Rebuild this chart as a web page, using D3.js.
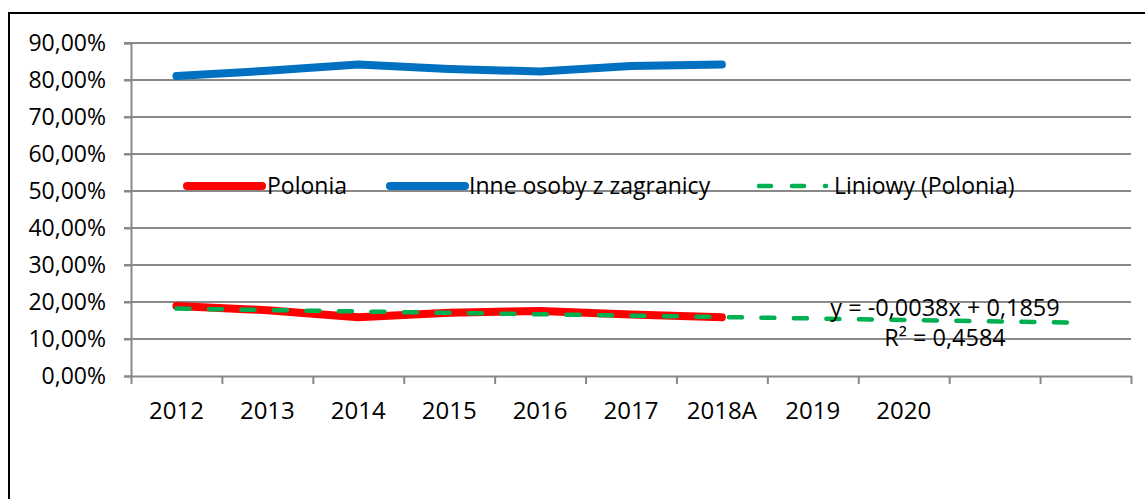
<!DOCTYPE html>
<html lang="pl">
<head>
    <meta charset="utf-8">
    <title>Polonia vs inne osoby z zagranicy</title>
    <script type="text/javascript" src="https://d3js.org/d3.v7.min.js"></script>
    <style type="text/css">
        body { margin: 0; background: #fff; }
        text { font-family: "Open Sans", sans-serif; fill: #000; }
    </style>
</head>
<body>
    <script type="text/javascript">
        var years = ["2012", "2013", "2014", "2015", "2016", "2017", "2018A", "2019", "2020", "", ""];
        var polonia = [0.189, 0.178, 0.159, 0.171, 0.176, 0.166, 0.159];
        var inne = [0.811, 0.825, 0.842, 0.830, 0.823, 0.838, 0.842];
        var yTicks = [0, 0.1, 0.2, 0.3, 0.4, 0.5, 0.6, 0.7, 0.8, 0.9];
        // trend line from the chart: y = -0,0038x + 0,1859, x = 1..11
        var trendSlope = -0.0038;
        var trendIntercept = 0.1859;
        var trendX = [1, 11];
        var legendNames = ["Polonia", "Inne osoby z zagranicy", "Liniowy (Polonia)"];

        var width = 1145, height = 499;
        var plotLeft = 131, plotRight = 1131, plotTop = 43, plotBottom = 376;
        var grid = "#898989";

        var pl = d3.formatLocale({ decimal: ",", thousands: " ", grouping: [3], currency: ["", " zł"] });
        var pct = pl.format(".2%");

        var svg = d3.select("body").append("svg")
            .attr("width", width)
            .attr("height", height);

        // chart border
        svg.append("rect")
            .attr("x", 9).attr("y", 13)
            .attr("width", 1300).attr("height", 700)
            .attr("fill", "none")
            .attr("stroke", "#000")
            .attr("stroke-width", 2);

        var x = d3.scaleLinear().domain([0, years.length]).range([plotLeft, plotRight]);
        var y = d3.scaleLinear().domain([0, 0.9]).range([plotBottom, plotTop]);

        // gridlines
        svg.append("g").selectAll("line")
            .data(yTicks.slice(1))
            .enter().append("line")
            .attr("x1", plotLeft - 7).attr("x2", plotRight)
            .attr("y1", function(d) { return y(d); })
            .attr("y2", function(d) { return y(d); })
            .attr("stroke", grid).attr("stroke-width", 2);

        // y axis
        var yAxis = svg.append("g")
            .attr("transform", "translate(" + plotLeft + ",0)")
            .call(d3.axisLeft(y).tickValues(yTicks).tickFormat(pct).tickSize(7).tickPadding(18));
        yAxis.select(".domain").attr("stroke", grid).attr("stroke-width", 2);
        yAxis.selectAll(".tick line").attr("stroke", grid).attr("stroke-width", 2);
        yAxis.selectAll("text").attr("fill", "#000").style("font-size", "23px").attr("dy", "0.34em");

        // x axis (ticks between categories)
        var xAxis = svg.append("g")
            .attr("transform", "translate(0," + plotBottom + ")")
            .call(d3.axisBottom(x).tickValues(d3.range(0, years.length + 1)).tickFormat("").tickSize(8).tickSizeOuter(0));
        xAxis.select(".domain").attr("stroke", grid).attr("stroke-width", 2);
        xAxis.selectAll(".tick line").attr("stroke", grid).attr("stroke-width", 2);

        svg.append("g").selectAll("text")
            .data(years)
            .enter().append("text")
            .attr("x", function(d, i) { return x(i + 0.5); })
            .attr("y", 419)
            .attr("text-anchor", "middle")
            .style("font-size", "24px")
            .text(function(d) { return d; });

        var line = d3.line()
            .x(function(d, i) { return x(i + 0.5); })
            .y(function(d) { return y(d); });

        svg.append("path")
            .attr("d", line(inne))
            .attr("fill", "none")
            .attr("stroke", "#0070C0")
            .attr("stroke-width", 8)
            .attr("stroke-linecap", "round")
            .attr("stroke-linejoin", "round");

        svg.append("path")
            .attr("d", line(polonia))
            .attr("fill", "none")
            .attr("stroke", "#FF0000")
            .attr("stroke-width", 8)
            .attr("stroke-linecap", "round")
            .attr("stroke-linejoin", "round");

        // trend line
        var trendLine = d3.line()
            .x(function(d) { return x(d - 0.5); })
            .y(function(d) { return y(trendSlope * d + trendIntercept); });

        svg.append("path")
            .attr("d", trendLine(trendX))
            .attr("fill", "none")
            .attr("stroke", "#00B050")
            .attr("stroke-width", 4.5)
            .attr("stroke-dasharray", "13,19.5")
            .attr("stroke-linecap", "round");

        var eq = svg.append("text")
            .attr("x", 945)
            .attr("text-anchor", "middle")
            .style("font-size", "23.5px");
        eq.append("tspan").attr("x", 945).attr("y", 316).text("y = -0,0038x + 0,1859");
        eq.append("tspan").attr("x", 945).attr("y", 346).text("R² = 0,4584");

        // legend
        var lg = svg.append("g");
        var legendItems = [
            { x1: 187, x2: 262, tx: 267, color: "#FF0000", w: 8, dash: null },
            { x1: 390, x2: 465, tx: 469, color: "#0070C0", w: 8, dash: null },
            { x1: 759, x2: 826, tx: 834, color: "#00B050", w: 4.5, dash: "12,21" }
        ];
        legendItems.forEach(function(d, i) {
            var l = lg.append("line")
                .attr("x1", d.x1).attr("x2", d.x2)
                .attr("y1", 186).attr("y2", 186)
                .attr("stroke", d.color)
                .attr("stroke-width", d.w)
                .attr("stroke-linecap", "round");
            if (d.dash) l.attr("stroke-dasharray", d.dash);
            lg.append("text")
                .attr("x", d.tx).attr("y", 194)
                .style("font-size", "23px")
                .text(legendNames[i]);
        });
    </script>
</body>
</html>
